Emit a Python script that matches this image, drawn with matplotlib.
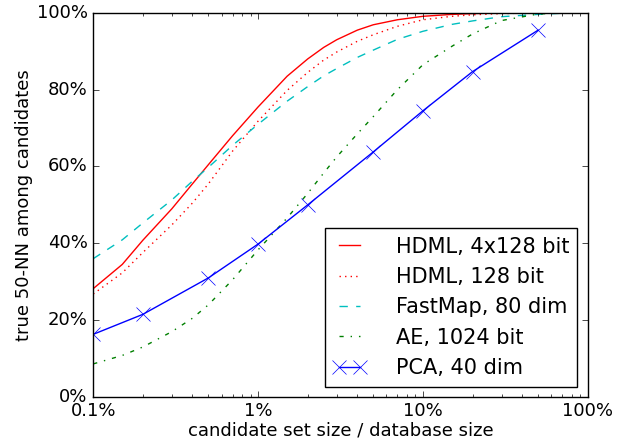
import matplotlib
matplotlib.use("Agg")
import matplotlib.pyplot as plt
from matplotlib.ticker import FuncFormatter

plt.style.use('classic')

# candidate set size in percent of database
x_curve = [0.1, 0.15, 0.2, 0.3, 0.4, 0.5, 0.7, 1, 1.5, 2, 2.5, 3, 4, 5, 7, 10, 15, 20, 30, 50, 70, 100]

hdml_4x128 = [28.2, 34.5, 40.8, 49, 55.5, 60.5, 68, 75.5, 83.5, 88, 91, 93, 95.5, 96.9, 98.2, 99.1, 99.6, 99.8, 100, 100, 100, 100]
hdml_128 = [26.8, 32.3, 37.6, 44.8, 50.5, 55.5, 64, 71.8, 79.8, 84.5, 87.7, 89.8, 92.6, 94.3, 96.5, 98.2, 99.1, 99.5, 99.8, 100, 100, 100]
fastmap_80 = [36, 40.9, 45.3, 51.3, 56.2, 59.8, 65.5, 71, 77, 80.8, 83.6, 85.5, 88.4, 90.3, 93.1, 95.2, 97, 97.9, 99, 99.6, 99.9, 100]
ae_1024 = [8.6, 10.8, 13, 17, 20.5, 24, 30.5, 38.3, 46.6, 53, 58.3, 62.5, 68.5, 73, 80, 86.5, 91.3, 94.5, 98, 99.7, 100, 100]

x_pca = [0.1, 0.2, 0.5, 1, 2, 5, 10, 20, 50]
pca_40 = [16.3, 21.5, 31, 39.8, 50, 63.8, 74.5, 84.7, 95.5]

fig = plt.figure(figsize=(6.3, 4.43), dpi=100, facecolor='white')
ax = fig.add_axes([0.148, 0.104, 0.785, 0.867])

ax.plot(x_curve, hdml_4x128, 'r-', label='HDML, 4x128 bit')
ax.plot(x_curve, hdml_128, 'r:', label='HDML, 128 bit')
ax.plot(x_curve, fastmap_80, 'c--', label='FastMap, 80 dim')
ax.plot(x_curve, ae_1024, 'g-.', label='AE, 1024 bit')
ax.plot(x_pca, pca_40, 'bx-', markersize=10, label='PCA, 40 dim')

ax.set_xscale('log')
ax.set_xlim(0.1, 100)
ax.set_ylim(0, 100)
ax.set_yticks([0, 20, 40, 60, 80, 100])
ax.xaxis.set_major_formatter(FuncFormatter(lambda v, p: '%g%%' % v))
ax.yaxis.set_major_formatter(FuncFormatter(lambda v, p: '%d%%' % v))
ax.tick_params(labelsize=13)

ax.set_xlabel('candidate set size / database size', fontsize=13, labelpad=1)
ax.set_ylabel('true 50-NN among candidates', fontsize=13, labelpad=3)

ax.legend(loc='lower right', fontsize=15, numpoints=2, handlelength=1.6,
          handletextpad=1.4)

fig.savefig('out.png', dpi=100, facecolor='white')
